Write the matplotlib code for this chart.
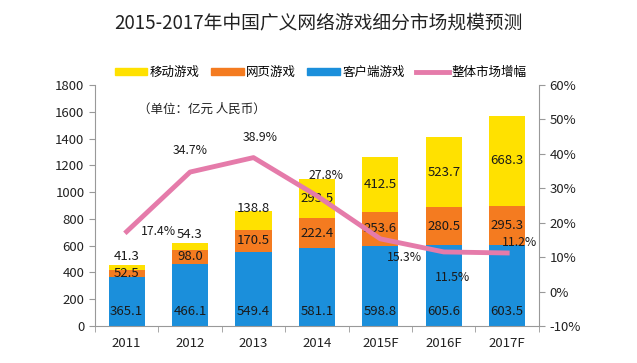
import matplotlib
matplotlib.use("Agg")
import matplotlib.pyplot as plt
from matplotlib.patches import Patch
from matplotlib.lines import Line2D
import numpy as np

plt.rcParams['font.family'] = ['Noto Sans CJK SC', 'DejaVu Sans']

years = ['2011', '2012', '2013', '2014', '2015F', '2016F', '2017F']
client = [365.1, 466.1, 549.4, 581.1, 598.8, 605.6, 603.5]
web = [52.5, 98.0, 170.5, 222.4, 253.6, 280.5, 295.3]
mobile = [41.3, 54.3, 138.8, 293.5, 412.5, 523.7, 668.3]
growth = [17.4, 34.7, 38.9, 27.8, 15.3, 11.5, 11.2]

c_mob = '#FFE100'
c_web = '#F47B20'
c_cli = '#1B8FDB'
c_line = '#E57BAA'

fig = plt.figure(figsize=(6.37, 3.63), dpi=100)
ax = fig.add_axes([0.149, 0.102, 0.697, 0.664])
x = np.arange(len(years))
w = 0.57
client = np.array(client); web = np.array(web); mobile = np.array(mobile)
ax.bar(x, client, w, color=c_cli, zorder=2)
ax.bar(x, web, w, bottom=client, color=c_web, zorder=2)
ax.bar(x, mobile, w, bottom=client + web, color=c_mob, zorder=2)
ax.set_xlim(-0.5, len(years) - 0.5)
ax.set_ylim(0, 1800)
ax.set_yticks(np.arange(0, 1801, 200))
ax.set_xticks(x)
ax.set_xticklabels(years)
ax.set_xticks(np.arange(-0.5, len(years), 1), minor=True)
tfs = 9.5
ax.tick_params(axis='x', which='major', length=0, labelsize=tfs, pad=8, colors='#222222')
ax.tick_params(axis='x', which='minor', length=4, direction='out', color='#999999')
ax.tick_params(axis='y', length=4, color='#999999', labelsize=tfs, colors='#222222')
for s in ['top', 'right']:
    ax.spines[s].set_visible(False)
for s in ['left', 'bottom']:
    ax.spines[s].set_color('#999999')

fs = 9.5
for i in range(len(years)):
    ax.text(x[i], 110, f'{client[i]:.1f}', ha='center', va='center', fontsize=fs, color='#1a1a1a', zorder=5)
    ax.text(x[i], client[i] + web[i] / 2, f'{web[i]:.1f}', ha='center', va='center', fontsize=fs, color='#1a1a1a', zorder=5)
    top = client[i] + web[i] + mobile[i]
    if mobile[i] < 100:
        ax.text(x[i], top + 15, f'{mobile[i]:.1f}', ha='center', va='bottom', fontsize=fs, color='#1a1a1a', zorder=5)
    elif mobile[i] < 200:
        ax.text(x[i], top + 20, f'{mobile[i]:.1f}', ha='center', va='center', fontsize=fs, color='#1a1a1a', zorder=5)
    else:
        ax.text(x[i], client[i] + web[i] + mobile[i] / 2, f'{mobile[i]:.1f}', ha='center', va='center', fontsize=fs, color='#1a1a1a', zorder=5)

ax2 = ax.twinx()
ax2.set_position(ax.get_position())
ax2.plot(x, growth, color=c_line, lw=3.5, zorder=3, solid_joinstyle='round')
ax2.set_ylim(-10, 60)
ax2.set_yticks(np.arange(-10, 61, 10))
ax2.set_yticklabels([f'{v}%' for v in range(-10, 61, 10)])
ax2.tick_params(axis='y', length=4, color='#999999', labelsize=tfs, colors='#222222')
for s in ['top', 'left', 'bottom']:
    ax2.spines[s].set_visible(False)
ax2.spines['right'].set_color('#999999')

pfs = 8.8
offs = [(0.5, 0.0, 'center'), (0.0, 4.5, 'bottom'), (0.1, 4.0, 'bottom'),
        (0.15, 6.0, 'center'), (0.38, -5.4, 'center'), (0.14, -7.4, 'center'), (0.2, 3.0, 'center')]
for i, g in enumerate(growth):
    dx, dy, va = offs[i]
    ax2.text(x[i] + dx, g + dy, f'{g}%', ha='center', va=va, fontsize=pfs, color='#1a1a1a', zorder=6)

ax.text(0.097, 0.885, '（单位：亿元 人民币）', transform=ax.transAxes, fontsize=9, color='#222222')

fig.text(0.5, 0.937, '2015-2017年中国广义网络游戏细分市场规模预测', ha='center', va='center',
         fontsize=13.5, color='#222222')

handles = [Patch(color=c_mob, label='移动游戏'), Patch(color=c_web, label='网页游戏'),
           Patch(color=c_cli, label='客户端游戏'), Line2D([0], [0], color=c_line, lw=3.5, label='整体市场增幅')]
fig.legend(handles=handles, loc='center', bbox_to_anchor=(0.503, 0.8), ncol=4, frameon=False,
           fontsize=9, handlelength=2.6, handleheight=0.5, columnspacing=0.9, handletextpad=0.2)

fig.savefig('out.png', dpi=100)
